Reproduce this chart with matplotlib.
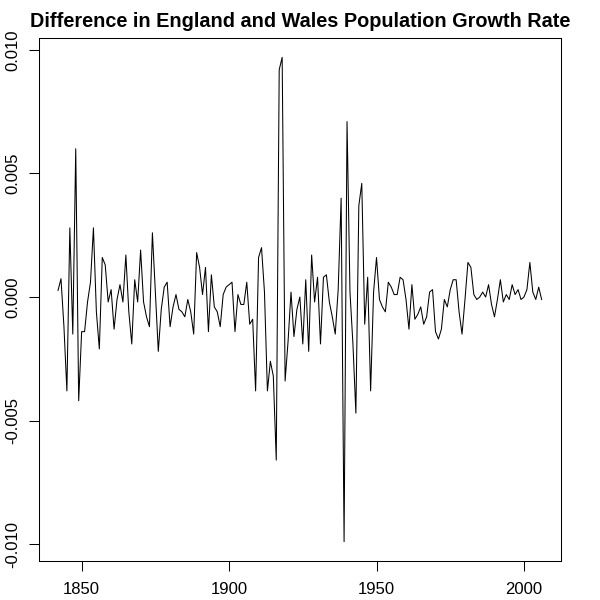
import matplotlib
matplotlib.use("Agg")
import matplotlib.pyplot as plt
import numpy as np

# first differences of the yearly growth rate, 1842-2006
start_year = 1842
diff_growth = [
    0.00027, 0.00074, -0.0012, -0.0038, 0.0028, -0.0015, 0.0060, -0.0042,   # 1842-1849
    -0.0014, -0.0014, -0.0002, 0.0006, 0.0028, -0.0006, -0.0021, 0.0016,   # 1850-1857
    0.0013, -0.0002, 0.0003, -0.0013, -0.0001, 0.0005, -0.0002, 0.0017,    # 1858-1865
    -0.0006, -0.0019, 0.0007, -0.0002, 0.0019, -0.0002, -0.0008, -0.0012,  # 1866-1873
    0.0026, 0.0002, -0.0022, -0.0005, 0.0004, 0.0006, -0.0012, -0.0004,    # 1874-1881
    0.0001, -0.0005, -0.0006, -0.0008, -0.0001, -0.0006, -0.0015, 0.0018,  # 1882-1889
    0.0012, 0.0001, 0.0012, -0.0014, 0.0009, -0.0004, -0.0006, -0.0012,    # 1890-1897
    0.0001, 0.0004, 0.0005, 0.0006, -0.0014, 0.0001, -0.0003, -0.0003,     # 1898-1905
    0.0006, -0.0011, -0.0009, -0.0038, 0.0016, 0.0020, 0.0002, -0.0038,    # 1906-1913
    -0.0026, -0.0032, -0.0066, 0.0092, 0.0097, -0.0034, -0.0018, 0.0002,   # 1914-1921
    -0.0016, -0.0005, 0.0000, -0.0019, 0.0007, -0.0022, 0.0017, -0.0002,   # 1922-1929
    0.0008, -0.0019, 0.0008, 0.0009, -0.0002, -0.0008, -0.0015, 0.0003,    # 1930-1937
    0.0040, -0.0099, 0.0071, 0.0002, -0.0019, -0.0047, 0.0037, 0.0046,     # 1938-1945
    -0.0011, 0.0008, -0.0038, 0.0002, 0.0016, -0.0001, -0.0004, -0.0006,   # 1946-1953
    0.0006, 0.0004, 0.0001, 0.0001, 0.0008, 0.0007, -0.0001, -0.0013,      # 1954-1961
    0.0005, -0.0009, -0.0007, -0.0004, -0.0011, -0.0008, 0.0002, 0.0003,   # 1962-1969
    -0.0014, -0.0017, -0.0013, -0.0001, -0.0004, 0.0003, 0.0007, 0.0007,   # 1970-1977
    -0.0006, -0.0015, -0.0001, 0.0014, 0.0012, 0.0001, -0.0001, 0.0000,    # 1978-1985
    0.0002, 0.0000, 0.0005, -0.0003, -0.0008, -0.0001, 0.0007, -0.0002,    # 1986-1993
    0.0001, -0.0001, 0.0005, 0.0001, 0.0003, -0.0001, 0.0000, 0.0003,      # 1994-2001
    0.0014, 0.0002, -0.0001, 0.0004, -0.0001,                              # 2002-2006
]
years = np.arange(start_year, start_year + len(diff_growth))

x_ticks = [1850, 1900, 1950, 2000]
y_ticks = [-0.010, -0.005, 0.000, 0.005, 0.010]
title = "Difference in England and Wales Population Growth Rate"

plt.rcParams["font.family"] = ["Liberation Sans", "DejaVu Sans"]
plt.rcParams["axes.unicode_minus"] = False

fig = plt.figure(figsize=(6, 6), dpi=100)
# plot box like R's default margins
ax = fig.add_axes([38.7 / 600, 39 / 600, 522.3 / 600, 523 / 600])

ax.plot(years, diff_growth, color="black", linewidth=0.75)
ax.margins(x=0.04, y=0.04)

ax.set_xticks(x_ticks)
ax.set_yticks(y_ticks)
ax.set_yticklabels([f"{v:.3f}" for v in y_ticks], rotation=90, va="center")
ax.tick_params(axis="both", direction="out", length=7.2, width=0.75, labelsize=12, colors="black")
ax.tick_params(axis="x", pad=8)
ax.tick_params(axis="y", pad=6)
for spine in ax.spines.values():
    spine.set_linewidth(0.75)

fig.text(300 / 600, 1 - 27 / 600, title, ha="center", va="baseline",
         fontsize=14.3, fontweight="bold")

fig.savefig("out.png", dpi=100)
